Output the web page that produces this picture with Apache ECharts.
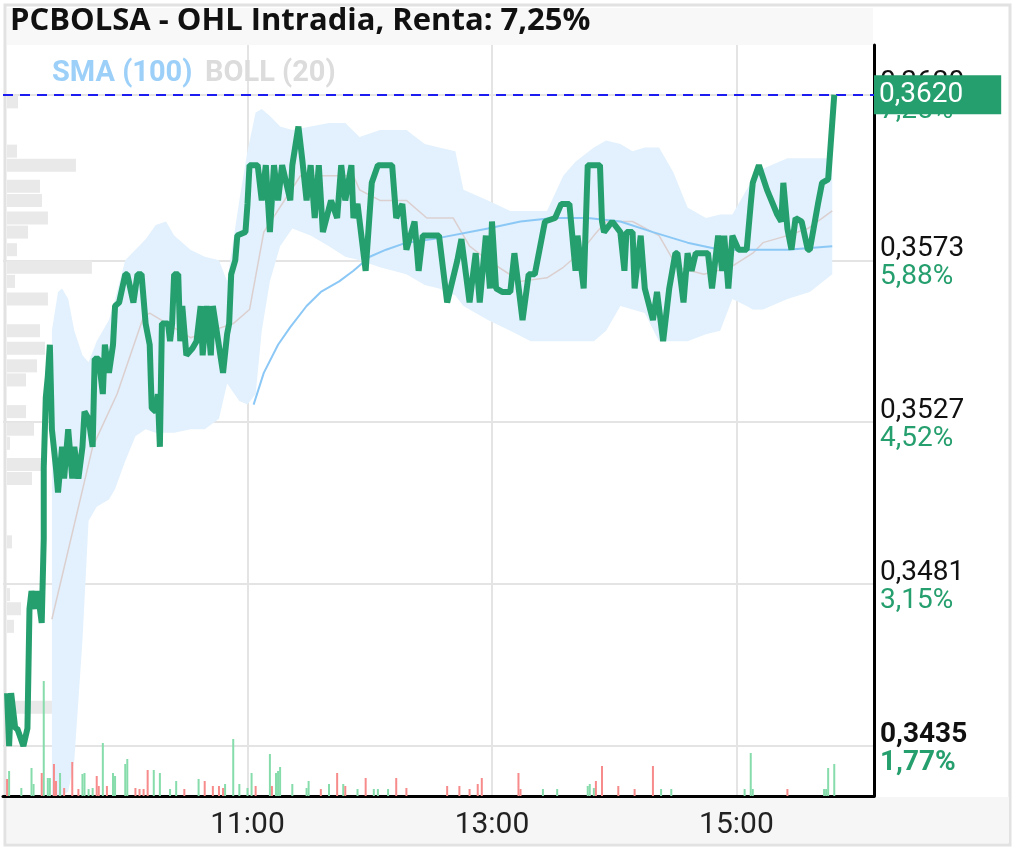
<!DOCTYPE html>
<html><head><meta charset="utf-8">
<script src="https://cdn.jsdelivr.net/npm/echarts@6/dist/echarts.min.js"></script>
<style>html,body{margin:0;padding:0;background:#fff}#c{width:1017px;height:851px}</style>
</head><body><div id="c"></div>
<script>
// ---- Data ----
const titleText = 'PCBOLSA - OHL Intradia, Renta: 7,25%';
const lastPrice = 0.3620;
const lastPriceLabel = '0,3620';

const priceTickValues = [0.3435, 0.3481, 0.3527, 0.3573, 0.3620];
const priceTickLabels = ['0,3435', '0,3481', '0,3527', '0,3573', '0,3620'];
const pctTickLabels = ['1,77%', '3,15%', '4,52%', '5,88%', '7,25%'];
const timeTickLabels = ['11:00', '13:00', '15:00'];

const priceTimes = ['09:02','09:03','09:04','09:06','09:07','09:10','09:12','09:13','09:14','09:16','09:17','09:19','09:20','09:20','09:21','09:22','09:23','09:24','09:26','09:27','09:29','09:30','09:32','09:34','09:35','09:37','09:39','09:40','09:42','09:44','09:45','09:47','09:49','09:50','09:52','09:54','09:55','09:57','10:00','10:01','10:04','10:06','10:08','10:10','10:12','10:13','10:15','10:16','10:17','10:18','10:21','10:22','10:23','10:24','10:26','10:27','10:28','10:30','10:33','10:35','10:37','10:38','10:40','10:42','10:43','10:48','10:50','10:51','10:52','10:54','10:55','10:59','11:00','11:01','11:05','11:07','11:09','11:11','11:13','11:15','11:17','11:21','11:22','11:25','11:27','11:29','11:31','11:33','11:35','11:37','11:41','11:44','11:46','11:48','11:51','11:52','11:54','11:58','12:01','12:04','12:11','12:13','12:16','12:18','12:22','12:24','12:26','12:31','12:34','12:38','12:43','12:45','12:49','12:52','12:54','12:57','12:59','13:00','13:02','13:05','13:09','13:11','13:15','13:18','13:21','13:26','13:31','13:34','13:38','13:41','13:42','13:45','13:47','13:53','13:54','13:55','13:59','14:03','14:05','14:06','14:09','14:10','14:13','14:15','14:19','14:21','14:24','14:27','14:30','14:31','14:34','14:36','14:38','14:40','14:46','14:48','14:51','14:53','14:54','14:56','14:58','15:01','15:05','15:07','15:08','15:11','15:15','15:20','15:22','15:23','15:25','15:27','15:29','15:32','15:35','15:36','15:40','15:42','15:45','15:46','15:48'];
const priceValues = [0.3450,0.3435,0.3450,0.3440,0.3440,0.3435,0.3440,0.3474,0.3479,0.3474,0.3479,0.3470,0.3494,0.3514,0.3534,0.3540,0.3549,0.3525,0.3514,0.3507,0.3520,0.3511,0.3525,0.3511,0.3520,0.3511,0.3520,0.3530,0.3528,0.3520,0.3545,0.3545,0.3535,0.3549,0.3541,0.3549,0.3560,0.3561,0.3569,0.3569,0.3561,0.3569,0.3569,0.3555,0.3549,0.3531,0.3530,0.3535,0.3520,0.3555,0.3555,0.3550,0.3555,0.3569,0.3569,0.3550,0.3560,0.3546,0.3548,0.3550,0.3560,0.3546,0.3560,0.3546,0.3560,0.3541,0.3552,0.3555,0.3569,0.3573,0.3580,0.3581,0.3589,0.3600,0.3600,0.3590,0.3600,0.3581,0.3600,0.3590,0.3600,0.3590,0.3600,0.3611,0.3601,0.3590,0.3600,0.3585,0.3600,0.3581,0.3590,0.3585,0.3600,0.3590,0.3600,0.3585,0.3589,0.3570,0.3595,0.3600,0.3600,0.3585,0.3589,0.3576,0.3584,0.3570,0.3580,0.3580,0.3580,0.3561,0.3573,0.3579,0.3561,0.3575,0.3561,0.3580,0.3565,0.3584,0.3565,0.3564,0.3564,0.3575,0.3556,0.3569,0.3569,0.3584,0.3585,0.3589,0.3589,0.3570,0.3580,0.3565,0.3600,0.3600,0.3584,0.3581,0.3584,0.3581,0.3570,0.3581,0.3581,0.3565,0.3580,0.3565,0.3556,0.3564,0.3550,0.3565,0.3575,0.3575,0.3561,0.3575,0.3570,0.3575,0.3575,0.3565,0.3580,0.3570,0.3580,0.3565,0.3580,0.3576,0.3576,0.3589,0.3595,0.3600,0.3593,0.3586,0.3584,0.3595,0.3582,0.3576,0.3585,0.3584,0.3576,0.3576,0.3589,0.3595,0.3596,0.3604,0.3620];

const bollTimes = ['09:24','09:27','09:29','09:32','09:35','09:39','09:42','09:46','09:52','09:55','10:00','10:05','10:10','10:15','10:20','10:24','10:32','10:39','10:46','10:50','10:56','11:00','11:04','11:07','11:11','11:16','11:22','11:31','11:40','11:48','11:55','12:05','12:18','12:27','12:34','12:42','12:46','12:58','13:09','13:19','13:27','13:35','13:41','13:50','13:56','14:03','14:09','14:15','14:22','14:29','14:36','14:45','14:52','14:58','15:05','15:08','15:13','15:25','15:36','15:47'];
const bollUpper = [0.3553,0.3564,0.3565,0.3562,0.3553,0.3546,0.3544,0.3550,0.3556,0.3562,0.3573,0.3576,0.3579,0.3583,0.3584,0.3580,0.3576,0.3574,0.3573,0.3567,0.3590,0.3604,0.3615,0.3616,0.3614,0.3611,0.3610,0.3611,0.3612,0.3612,0.3608,0.3610,0.3610,0.3606,0.3605,0.3604,0.3593,0.3590,0.3587,0.3587,0.3587,0.3597,0.3601,0.3605,0.3607,0.3606,0.3604,0.3605,0.3605,0.3598,0.3588,0.3585,0.3586,0.3586,0.3593,0.3596,0.3599,0.3602,0.3602,0.3602];
const bollLower = [0.3421,0.3421,0.3421,0.3422,0.3431,0.3465,0.3499,0.3503,0.3505,0.3508,0.3516,0.3523,0.3525,0.3524,0.3524,0.3524,0.3525,0.3525,0.3528,0.3538,0.3533,0.3532,0.3535,0.3553,0.3567,0.3577,0.3582,0.3580,0.3577,0.3574,0.3573,0.3571,0.3569,0.3566,0.3565,0.3563,0.3560,0.3556,0.3553,0.3550,0.3550,0.3550,0.3550,0.3550,0.3553,0.3560,0.3559,0.3558,0.3550,0.3550,0.3550,0.3552,0.3553,0.3562,0.3560,0.3559,0.3559,0.3562,0.3564,0.3569];

const bollMidTimes = ['09:24','09:44','09:56','10:09','10:12','10:32','10:53','11:01','11:08','11:26','11:52','11:55','12:05','12:18','12:28','12:41','12:49','12:58','13:14','13:27','13:35','13:43','13:50','13:56','14:09','14:22','14:31','14:44','14:57','15:08','15:13','15:25','15:35','15:47'];
const bollMid = [0.3471,0.3520,0.3535,0.3557,0.3558,0.3551,0.3555,0.3559,0.3581,0.3597,0.3597,0.3593,0.3590,0.3590,0.3585,0.3585,0.3577,0.3573,0.3567,0.3568,0.3571,0.3575,0.3580,0.3584,0.3584,0.3580,0.3571,0.3569,0.3571,0.3575,0.3578,0.3580,0.3582,0.3587];

const smaTimes = ['11:03','11:08','11:15','11:21','11:29','11:36','11:45','11:52','12:00','12:08','12:18','12:31','12:58','13:14','13:30','13:47','14:03','14:19','14:36','14:52','15:08','15:25','15:47'];
const smaValues = [0.3532,0.3541,0.3549,0.3554,0.3560,0.3564,0.3567,0.3570,0.3574,0.3576,0.3578,0.3579,0.3582,0.3584,0.3585,0.3585,0.3584,0.3581,0.3578,0.3576,0.3576,0.3576,0.3577];

// volume (thousands of shares)
const volUpTimes = ['09:03','09:09','09:14','09:15','09:20','09:22','09:23','09:28','09:39','09:40','09:42','09:44','09:49','09:54','09:55','10:00','10:01','10:14','10:17','10:22','10:25','10:36','10:49','10:53','10:56','11:00','11:02','11:11','11:14','11:15','11:16','11:22','11:29','11:30','11:40','11:47','11:54','12:02','12:04','12:09','13:25','13:32','13:47','13:48','13:50','14:23','14:28','15:04','15:07','15:08','15:43','15:44','15:45','15:48'];
const volUpValues = [25,8,28,12,115,18,18,23,22,23,7,8,53,23,20,32,37,26,23,7,15,17,12,57,12,8,23,42,23,25,29,12,8,15,12,12,7,7,7,7,7,7,10,12,8,7,7,7,43,7,7,7,28,32];
const volDownTimes = ['09:02','09:19','09:25','09:26','09:30','09:34','09:37','09:46','09:47','09:51','10:05','10:07','10:09','10:11','10:29','10:39','10:43','10:46','10:48','11:04','11:12','11:36','11:44','11:48','11:58','12:13','12:18','12:38','12:44','12:49','12:53','12:55','13:13','13:14','13:51','13:54','14:02','14:10','14:19','15:25'];
const volDownValues = [17,23,32,15,8,34,7,20,10,10,8,7,7,26,7,15,10,10,8,10,10,7,23,10,18,18,8,10,10,7,12,18,23,7,15,30,10,7,30,7];

// volume profile (price level, volume)
const profilePrices = [0.3618,0.3604,0.3600,0.3594,0.3590,0.3585,0.3581,0.3576,0.3571,0.3567,0.3562,0.3553,0.3548,0.3543,0.3539,0.3530,0.3525,0.3521,0.3515,0.3511,0.3493,0.3478,0.3474,0.3469,0.3446];
const profileVolumes = [11,10,69,33,35,41,21,10,85,8,41,33,38,30,19,19,27,3,35,25,5,3,14,7,59];

// ---- helpers ----
const toMin = s => { const p = s.split(':'); return (+p[0]) * 60 + (+p[1]); };
const fmtMin = m => Math.floor(m / 60) + ':' + String(Math.round(m % 60)).padStart(2, '0');
const pairs = (ts, vs) => ts.map((t, i) => [toMin(t), vs[i]]);
const timeTickValues = timeTickLabels.map(toMin);

const Y_MIN = 0.34208, Y_MAX = 0.363415;
const X_MIN = 540, X_MAX = 967.5;
const GREEN = '#269f6e';
const FONT = 'Roboto, "Noto Sans", sans-serif';
const LBL = 28;

const chart = echarts.init(document.getElementById('c'), null, {renderer: 'canvas'});

function yLabel(val) {
  let idx = 0, best = Infinity;
  priceTickValues.forEach((v, i) => { const d = Math.abs(v - val); if (d < best) { best = d; idx = i; } });
  if (idx === 0) return '{vb|' + priceTickLabels[idx] + '}\n{pb|' + pctTickLabels[idx] + '}';
  return '{v|' + priceTickLabels[idx] + '}\n{p|' + pctTickLabels[idx] + '}';
}

const option = {
  animation: false,
  backgroundColor: '#fff',
  graphic: [
    {type: 'rect', z: -10, shape: {x: 5, y: 5, width: 1005, height: 840}, style: {fill: 'none', stroke: '#e2e2e2', lineWidth: 3}},
    {type: 'rect', z: -10, shape: {x: 7, y: 8, width: 866, height: 37}, style: {fill: '#f8f8f8'}},
    {type: 'rect', z: -10, shape: {x: 7, y: 797, width: 1002, height: 46}, style: {fill: '#f6f6f6'}},
    {type: 'text', z: 10, left: 10, top: 6, style: {text: titleText, fill: '#111', font: 'bold 31px "Open Sans", sans-serif'}},
    {type: 'text', z: 10, left: 52, top: 59, style: {text: 'SMA (100)', fill: '#9dd0f8', font: 'bold 29px ' + FONT}},
    {type: 'text', z: 10, left: 205, top: 59, style: {text: 'BOLL (20)', fill: '#dcdcdc', font: 'bold 29px ' + FONT}}
  ],
  grid: [
    {left: 3, right: 143, top: 45, bottom: 55},
    {left: 7, right: 143, top: 45, bottom: 55}
  ],
  xAxis: [
    {gridIndex: 0, type: 'value', min: X_MIN, max: X_MAX,
     axisLine: {show: true, onZero: false, lineStyle: {color: '#000', width: 3}},
     axisTick: {show: false, customValues: timeTickValues},
     splitLine: {show: true, lineStyle: {color: '#e4e4e4', width: 2}},
     axisLabel: {customValues: timeTickValues, formatter: v => fmtMin(v), fontSize: 30, color: '#222', fontFamily: FONT, margin: 14}},
    {gridIndex: 1, type: 'value', min: 0, max: 868, show: false}
  ],
  yAxis: [
    {gridIndex: 0, type: 'value', position: 'right', min: Y_MIN, max: Y_MAX,
     axisLine: {show: true, onZero: false, lineStyle: {color: '#000', width: 3}},
     axisTick: {show: false, customValues: priceTickValues},
     splitLine: {show: true, lineStyle: {color: '#e4e4e4', width: 2}},
     axisLabel: {customValues: priceTickValues, formatter: yLabel, margin: 6, align: 'left', padding: [5, 0, 0, 0],
       rich: {
         v: {fontSize: LBL, color: '#111', fontFamily: FONT, lineHeight: 28},
         p: {fontSize: LBL, color: GREEN, fontFamily: FONT, lineHeight: 28},
         vb: {fontSize: LBL, color: '#111', fontFamily: FONT, fontWeight: 'bold', lineHeight: 28},
         pb: {fontSize: LBL, color: GREEN, fontFamily: FONT, fontWeight: 'bold', lineHeight: 28}
       }}},
    {gridIndex: 0, type: 'value', min: 0, max: 751, show: false},
    {gridIndex: 1, type: 'value', min: Y_MIN, max: Y_MAX, show: false}
  ],
  series: [
    {name: 'profile', type: 'custom', xAxisIndex: 1, yAxisIndex: 2, z: 1, silent: true,
     data: profilePrices.map((p, i) => [profileVolumes[i], p]),
     renderItem: (params, api) => {
       const p0 = api.coord([0, api.value(1)]);
       const p1 = api.coord([api.value(0), api.value(1)]);
       const h = api.size([0, 0.00037])[1];
       return {type: 'rect', shape: {x: p0[0], y: p0[1] - h / 2, width: p1[0] - p0[0], height: h}, style: {fill: '#e9e9e9'}};
     }},
    {name: 'bollBand', type: 'custom', xAxisIndex: 0, yAxisIndex: 0, z: 2, silent: true,
     data: [[toMin(bollTimes[0]), bollUpper[0]]],
     renderItem: (params, api) => {
       const pts = [];
       bollTimes.forEach((t, i) => pts.push(api.coord([toMin(t), bollUpper[i]])));
       for (let i = bollTimes.length - 1; i >= 0; i--) pts.push(api.coord([toMin(bollTimes[i]), bollLower[i]]));
       return {type: 'polygon', shape: {points: pts}, style: {fill: '#e2f1fd'}};
     }},
    {name: 'BOLL (20)', type: 'line', z: 3, symbol: 'none', silent: true,
     data: pairs(bollMidTimes, bollMid), lineStyle: {color: '#dccfcf', width: 1.5}},
    {name: 'SMA (100)', type: 'line', z: 4, symbol: 'none', silent: true,
     data: pairs(smaTimes, smaValues), lineStyle: {color: '#8cc8f6', width: 2}},
    {name: 'volUp', type: 'bar', xAxisIndex: 0, yAxisIndex: 1, z: 5, barWidth: 2, silent: true,
     data: pairs(volUpTimes, volUpValues), itemStyle: {color: '#86dcab'}},
    {name: 'volDown', type: 'bar', xAxisIndex: 0, yAxisIndex: 1, z: 5, barWidth: 2, barGap: '-100%', silent: true,
     data: pairs(volDownTimes, volDownValues), itemStyle: {color: '#f78b8b'}},
    {name: 'price', type: 'line', z: 6, symbol: 'none', silent: true,
     data: pairs(priceTimes, priceValues), lineStyle: {color: GREEN, width: 6},
     markLine: {silent: true, symbol: 'none', animation: false,
       data: [[{coord: [X_MIN, lastPrice]}, {coord: [X_MAX, lastPrice]}]],
       lineStyle: {color: '#1c1cf0', type: [10, 7], width: 2},
       label: {show: true, position: 'end', distance: 0, formatter: lastPriceLabel,
         backgroundColor: GREEN, color: '#fff', fontSize: LBL, fontFamily: FONT,
         padding: [6, 38, 5, 5], lineHeight: 28}}}
  ]
};
chart.setOption(option);
</script></body></html>
